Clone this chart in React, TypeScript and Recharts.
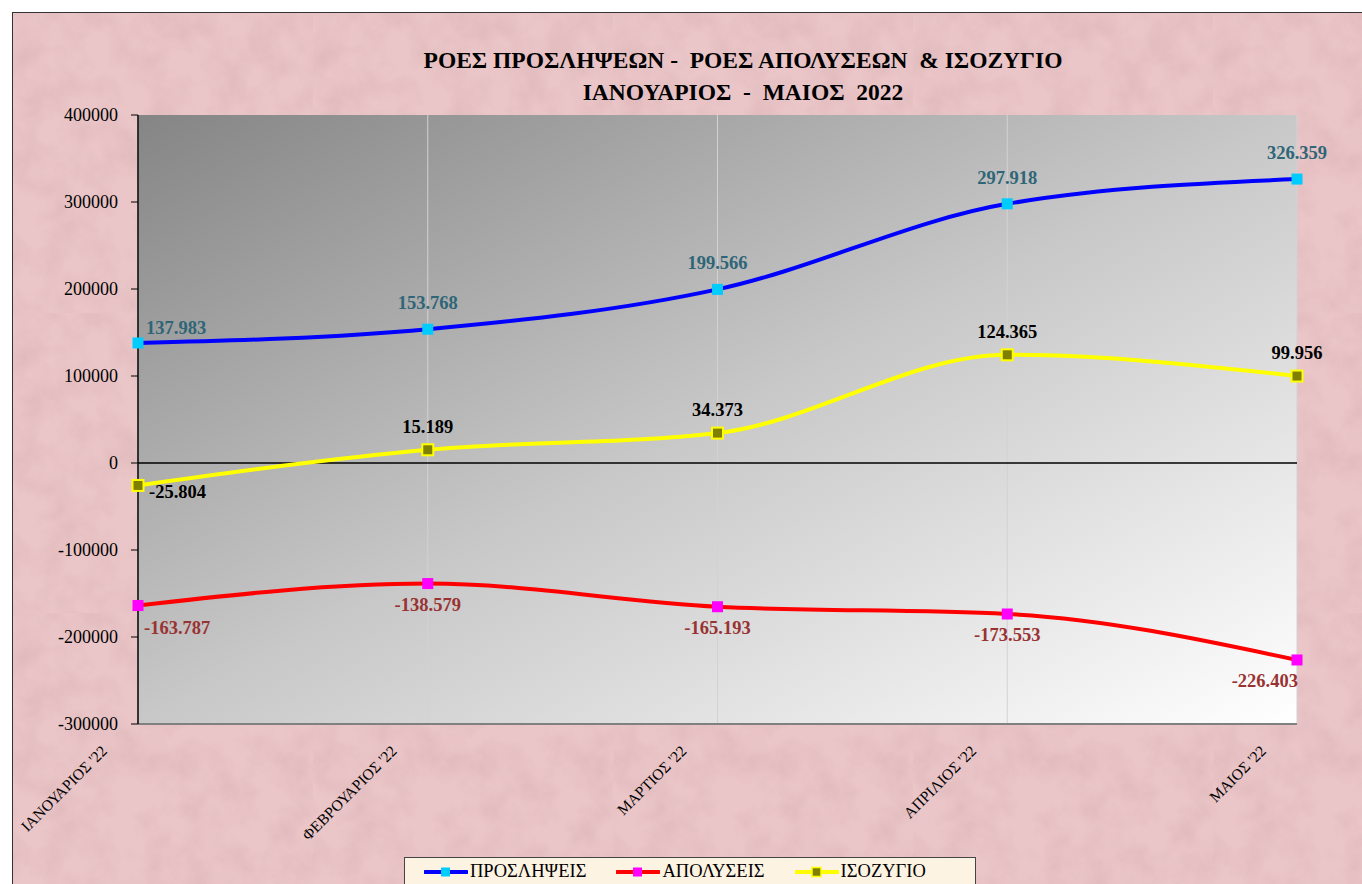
import {
  LineChart,
  Line,
  XAxis,
  YAxis,
  CartesianGrid,
  ReferenceLine,
  Legend,
  LabelList,
} from 'recharts';

const months = ["ΙΑΝΟΥΑΡΙΟΣ '22", "ΦΕΒΡΟΥΑΡΙΟΣ '22", "ΜΑΡΤΙΟΣ '22", "ΑΠΡΙΛΙΟΣ '22", "ΜΑΙΟΣ '22"];
const hires = [137983, 153768, 199566, 297918, 326359];
const layoffs = [-163787, -138579, -165193, -173553, -226403];
const balance = [-25804, 15189, 34373, 124365, 99956];
const yTicks = [-300000, -200000, -100000, 0, 100000, 200000, 300000, 400000];

const FONT = '"Liberation Serif", "Times New Roman", serif';

const data = months.map((m, i) => ({
  month: m,
  hires: hires[i],
  layoffs: layoffs[i],
  balance: balance[i],
}));

const series = [
  { key: 'hires', name: 'ΠΡΟΣΛΗΨΕΙΣ', line: '#0000ff', fill: '#00ccff', border: '#00ccff' },
  { key: 'layoffs', name: 'ΑΠΟΛΥΣΕΙΣ', line: '#ff0000', fill: '#ff00ff', border: '#ff00ff' },
  { key: 'balance', name: 'ΙΣΟΖΥΓΙΟ', line: '#ffff00', fill: '#808000', border: '#ffff00' },
];

// faint mottled texture for the pink chart background
const texture =
  "url(\"data:image/svg+xml;utf8,<svg xmlns='http://www.w3.org/2000/svg' width='300' height='300'>" +
  "<filter id='n'><feTurbulence type='fractalNoise' baseFrequency='0.03' numOctaves='4' seed='3'/>" +
  "<feColorMatrix values='0 0 0 0 0.62  0 0 0 0 0.38  0 0 0 0 0.4  0 0 0 0.7 -0.25'/></filter>" +
  "<rect width='300' height='300' filter='url(%23n)'/></svg>\")";

function fmt(v: number): string {
  const s = Math.abs(v).toString().replace(/\B(?=(\d{3})+(?!\d))/g, '.');
  return (v < 0 ? '-' : '') + s;
}

function squareDot(fill: string, border: string) {
  return (props: any) => {
    const { cx, cy, index } = props;
    if (cx == null || cy == null) return <g key={index} />;
    return (
      <rect
        key={index}
        x={cx - 5.5}
        y={cy - 5.5}
        width={11}
        height={11}
        fill={fill}
        stroke={border}
        strokeWidth={border === fill ? 0 : 2}
      />
    );
  };
}

interface LabelCfg {
  color: string;
  dy: number;
  firstDx: number;
  firstDy: number;
  lastEnd?: boolean;
}

function valueLabel(cfg: LabelCfg) {
  return (props: any) => {
    const { x, y, value, index } = props;
    let tx = x;
    let ty = y + cfg.dy;
    let anchor: 'start' | 'middle' | 'end' = 'middle';
    if (index === 0) {
      tx = x + cfg.firstDx;
      ty = y + cfg.firstDy;
      anchor = 'start';
    } else if (cfg.lastEnd && index === months.length - 1) {
      tx = x + 1;
      anchor = 'end';
    }
    return (
      <text
        key={index}
        x={tx}
        y={ty}
        textAnchor={anchor}
        fill={cfg.color}
        fontFamily={FONT}
        fontWeight="bold"
        fontSize={18.5}
      >
        {fmt(value)}
      </text>
    );
  };
}

function MonthTick(props: any) {
  const { x, y, payload } = props;
  const tx = x - 30;
  const ty = y + 26;
  return (
    <text
      x={tx}
      y={ty}
      textAnchor="end"
      fill="#000"
      fontFamily={FONT}
      fontSize={15.5}
      transform={`rotate(-45 ${tx} ${ty})`}
    >
      {payload.value}
    </text>
  );
}

function LegendBox() {
  return (
    <div
      style={{
        border: '1px solid #444',
        background: '#fdf3e2',
        height: 40,
        display: 'flex',
        alignItems: 'flex-start',
        paddingTop: 3,
        paddingLeft: 19,
        gap: 30,
        fontFamily: FONT,
        fontSize: 18.5,
        color: '#000',
        boxSizing: 'border-box',
      }}
    >
      {series.map((s) => (
        <div key={s.key} style={{ display: 'flex', alignItems: 'center' }}>
          <svg width={44} height={14} style={{ marginRight: 2 }}>
            <line x1={1} y1={7} x2={43} y2={7} stroke={s.line} strokeWidth={4} strokeLinecap="round" />
            <rect
              x={17}
              y={2.5}
              width={9}
              height={9}
              fill={s.fill}
              stroke={s.border}
              strokeWidth={s.border === s.fill ? 0 : 1.5}
            />
          </svg>
          <span>{s.name}</span>
        </div>
      ))}
    </div>
  );
}

export default function App() {
  return (
    <>
      <style>{'html,body{margin:0;overflow:hidden;}'}</style>
      <div
        style={{
          position: 'absolute',
          left: 12,
          top: 12,
          width: 1360,
          height: 880,
          backgroundColor: '#ebc6c8',
          backgroundImage: texture,
          borderLeft: '1px solid #333',
          borderTop: '1px solid #333',
        }}
      >
        <div
          style={{
            position: 'absolute',
            left: 0,
            top: 31,
            width: 1460,
            textAlign: 'center',
            fontFamily: FONT,
            fontWeight: 'bold',
            fontSize: 23.5,
            lineHeight: '32px',
            whiteSpace: 'pre',
            color: '#000',
            zIndex: 1,
          }}
        >
          {'ΡΟΕΣ ΠΡΟΣΛΗΨΕΩΝ -  ΡΟΕΣ ΑΠΟΛΥΣΕΩΝ  & ΙΣΟΖΥΓΙΟ\nΙΑΝΟΥΑΡΙΟΣ  -  ΜΑΙΟΣ  2022'}
        </div>
        <LineChart
          width={1350}
          height={880}
          data={data}
          margin={{ top: 102, right: 66, bottom: 69, left: 0 }}
        >
          <defs>
            <linearGradient id="plotBg" x1="0" y1="0" x2="1" y2="1">
              <stop offset="0%" stopColor="#858585" />
              <stop offset="50%" stopColor="#c8c8c8" />
              <stop offset="100%" stopColor="#ffffff" />
            </linearGradient>
          </defs>
          <CartesianGrid
            horizontal={false}
            vertical
            stroke="#d2d2d2"
            fill="url(#plotBg)"
            fillOpacity={1}
          />
          <XAxis
            dataKey="month"
            interval={0}
            height={100}
            tickLine={false}
            tickSize={0}
            axisLine={{ stroke: '#808080', strokeWidth: 2 }}
            tick={<MonthTick />}
          />
          <XAxis
            xAxisId="top"
            orientation="top"
            dataKey="month"
            height={0}
            tick={false}
            tickLine={false}
            axisLine={{ stroke: '#808080', strokeWidth: 2 }}
          />
          <YAxis
            width={125}
            domain={[-300000, 400000]}
            ticks={yTicks}
            interval={0}
            tickSize={7}
            tickMargin={13}
            axisLine={{ stroke: '#000', strokeWidth: 1.5 }}
            tickLine={{ stroke: '#000' }}
            tick={{ fill: '#000', fontSize: 18, fontFamily: FONT }}
          />
          <YAxis
            yAxisId="right"
            orientation="right"
            width={0}
            domain={[-300000, 400000]}
            tick={false}
            tickLine={false}
            axisLine={{ stroke: '#808080', strokeWidth: 2 }}
          />
          <ReferenceLine y={0} stroke="#000" strokeWidth={1.5} />
          <Legend
            verticalAlign="middle"
            align="center"
            layout="horizontal"
            wrapperStyle={{ left: 391, top: 844, bottom: 'auto', width: 572 }}
            content={<LegendBox />}
          />
          <Line
            dataKey="hires"
            name="ΠΡΟΣΛΗΨΕΙΣ"
            type="monotone"
            stroke="#0000ff"
            strokeWidth={4}
            dot={squareDot('#00ccff', '#00ccff')}
            activeDot={false}
            isAnimationActive={false}
          >
            <LabelList
              dataKey="hires"
              content={valueLabel({ color: '#2e6577', dy: -20, firstDx: 8, firstDy: -9 })}
            />
          </Line>
          <Line
            dataKey="layoffs"
            name="ΑΠΟΛΥΣΕΙΣ"
            type="monotone"
            stroke="#ff0000"
            strokeWidth={4}
            dot={squareDot('#ff00ff', '#ff00ff')}
            activeDot={false}
            isAnimationActive={false}
          >
            <LabelList
              dataKey="layoffs"
              content={valueLabel({ color: '#993333', dy: 27, firstDx: 6, firstDy: 29, lastEnd: true })}
            />
          </Line>
          <Line
            dataKey="balance"
            name="ΙΣΟΖΥΓΙΟ"
            type="monotone"
            stroke="#ffff00"
            strokeWidth={4}
            dot={squareDot('#808000', '#ffff00')}
            activeDot={false}
            isAnimationActive={false}
          >
            <LabelList
              dataKey="balance"
              content={valueLabel({ color: '#000', dy: -17, firstDx: 11, firstDy: 13 })}
            />
          </Line>
        </LineChart>
      </div>
    </>
  );
}
